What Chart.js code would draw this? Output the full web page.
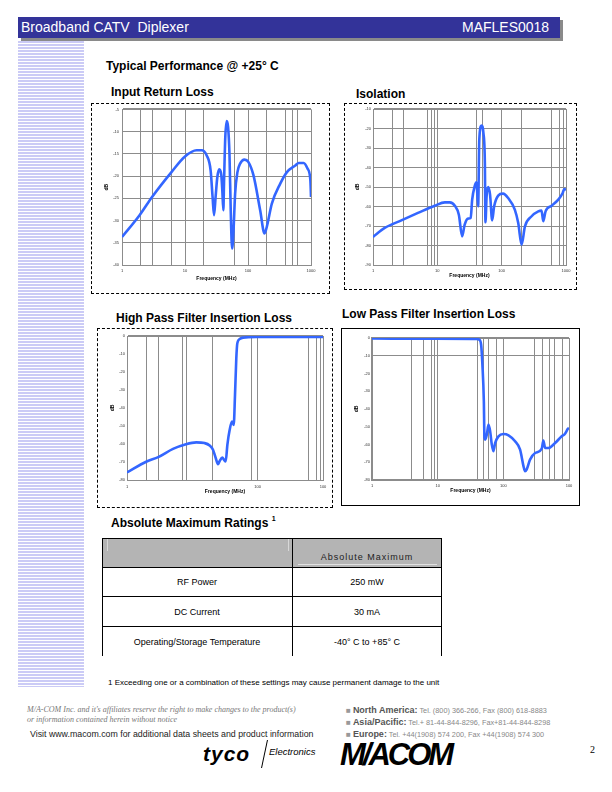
<!DOCTYPE html>
<html>
<head>
<meta charset="utf-8">
<script src="https://cdn.jsdelivr.net/npm/chart.js@4.4.1/dist/chart.umd.min.js"></script>
<style>
  html, body { margin:0; padding:0; background:#fff; }
  body { width:612px; height:792px; position:relative; overflow:hidden; font-family:"Liberation Sans", Arial, sans-serif; }
  .t { position:absolute; white-space:nowrap; transform:translateY(-50%); line-height:1; }
  .box { position:absolute; box-sizing:border-box; }
  canvas { position:absolute; }
</style>
</head>
<body>
<!-- left stripes -->
<div class="box" style="left:18px; top:41px; width:66px; height:646px; background:repeating-linear-gradient(to bottom, #cbcbf6 0px, #cbcbf6 2px, #ffffff 2px, #ffffff 3px);"></div>
<!-- header -->
<div class="box" style="left:21px; top:20px; width:542px; height:21px; background:#8a8a8a;"></div>
<div class="box" style="left:18px; top:17px; width:542px; height:21px; background:#333399;"></div>
<div class="t" style="left:21px; top:27px; color:#fff; font-size:14px;">Broadband CATV&nbsp; Diplexer</div>
<div class="t" style="left:462px; top:27px; color:#fff; font-size:14px;">MAFLES0018</div>

<div class="t" style="left:106px; top:66px; font-size:12px; font-weight:bold;">Typical Performance @ +25° C</div>
<div class="t" style="left:111px; top:92px; font-size:12px; font-weight:bold;">Input Return Loss</div>
<div class="t" style="left:356px; top:94px; font-size:12px; font-weight:bold;">Isolation</div>
<div class="t" style="left:116px; top:318px; font-size:12px; font-weight:bold;">High Pass Filter Insertion Loss</div>
<div class="t" style="left:342px; top:314px; font-size:12px; font-weight:bold;">Low Pass Filter Insertion Loss</div>

<!-- chart frames -->
<div class="box" style="left:91px; top:103px; width:239px; height:191px; border:1px dashed #000;"></div>
<div class="box" style="left:344px; top:103px; width:233px; height:187px; border:1px dashed #000;"></div>
<div class="box" style="left:97px; top:328px; width:236px; height:180px; border:1px dashed #000;"></div>
<div class="box" style="left:341px; top:328px; width:239px; height:178px; border:1px solid #000;"></div>

<canvas id="c1" width="236" height="188" style="left:92px; top:104px;"></canvas>
<canvas id="c2" width="230" height="184" style="left:345px; top:104px;"></canvas>
<canvas id="c3" width="233" height="177" style="left:98px; top:329px;"></canvas>
<canvas id="c4" width="236" height="175" style="left:342px; top:329px;"></canvas>

<!-- ratings -->
<div class="t" style="left:111px; top:522px; font-size:12px; font-weight:bold;">Absolute Maximum Ratings <sup style="font-size:7px; vertical-align:6px;">1</sup></div>
<div class="box" style="left:102px; top:538px; width:340px; height:30px; background:#b4b4b4;"></div>
<div class="box" style="left:107px; top:539px; width:1px; height:12px; background:#d8d8d8;"></div>
<div class="box" style="left:288px; top:539px; width:1px; height:12px; background:#d8d8d8;"></div>
<div class="box" style="left:298px; top:564px; width:139px; height:1px; background:#e0e0e0;"></div>
<div class="box" style="left:102px; top:538px; width:340px; height:1px; background:#000;"></div>
<div class="box" style="left:102px; top:567px; width:340px; height:1px; background:#000;"></div>
<div class="box" style="left:102px; top:596px; width:340px; height:1px; background:#000;"></div>
<div class="box" style="left:102px; top:626px; width:340px; height:1px; background:#000;"></div>
<div class="box" style="left:102px; top:538px; width:1px; height:118px; background:#000;"></div>
<div class="box" style="left:292px; top:538px; width:1px; height:118px; background:#000;"></div>
<div class="box" style="left:441px; top:538px; width:1px; height:118px; background:#000;"></div>
<div class="t" style="left:367px; top:557px; font-size:9px; letter-spacing:1px; transform:translate(-50%,-50%); color:#222;">Absolute Maximum</div>
<div class="t" style="left:197px; top:582px; font-size:9px; transform:translate(-50%,-50%);">RF Power</div>
<div class="t" style="left:367px; top:582px; font-size:9px; transform:translate(-50%,-50%);">250 mW</div>
<div class="t" style="left:197px; top:612px; font-size:9px; transform:translate(-50%,-50%);">DC Current</div>
<div class="t" style="left:367px; top:612px; font-size:9px; transform:translate(-50%,-50%);">30 mA</div>
<div class="t" style="left:197px; top:642px; font-size:9px; transform:translate(-50%,-50%);">Operating/Storage Temperature</div>
<div class="t" style="left:367px; top:642px; font-size:9px; transform:translate(-50%,-50%);">-40° C to +85° C</div>
<div class="t" style="left:108px; top:683px; font-size:8px;">1 Exceeding one or a combination of these settings may cause permanent damage to the unit</div>

<!-- footer -->
<div class="t" style="left:27px; top:710px; font-size:8px; font-style:italic; font-family:'Liberation Serif',serif; color:#777;">M/A-COM Inc. and it's affiliates reserve the right to make changes to the product(s)</div>
<div class="t" style="left:27px; top:720px; font-size:8px; font-style:italic; font-family:'Liberation Serif',serif; color:#777;">or information contained herein without notice</div>
<div class="t" style="left:30px; top:734px; font-size:8.8px; color:#222;">Visit www.macom.com for additional data sheets and product information</div>
<div class="t" style="left:346px; top:710px; font-size:7.3px; color:#888;"><span style="color:#999;font-size:8px;">■</span> <b style="font-size:9px;color:#555;">North America:</b> Tel. (800) 366-266, Fax (800) 618-8883</div>
<div class="t" style="left:346px; top:722px; font-size:7.3px; color:#888;"><span style="color:#999;font-size:8px;">■</span> <b style="font-size:9px;color:#555;">Asia/Pacific:</b> Tel.+ 81-44-844-8296, Fax+81-44-844-8298</div>
<div class="t" style="left:346px; top:734px; font-size:7.3px; color:#888;"><span style="color:#999;font-size:8px;">■</span> <b style="font-size:9px;color:#555;">Europe:</b> Tel. +44(1908) 574 200, Fax +44(1908) 574 300</div>
<div class="t" style="left:203px; top:753px; font-size:21px; font-weight:900; font-style:italic; letter-spacing:1px;">tyco</div>
<div class="box" style="left:264px; top:740px; width:1px; height:28px; background:#000; transform:skewX(-12deg);"></div>
<div class="t" style="left:269px; top:752px; font-size:9.5px; font-style:italic;">Electronics</div>
<div class="t" style="left:340px; top:754px; font-size:31px; font-weight:900; font-style:italic; letter-spacing:-3px;">M/ACOM</div>
<div class="t" style="left:590px; top:750px; font-size:10px; font-family:'Liberation Serif',serif;">2</div>

<script>
// ---------- data ----------
const irlFreq = [1, 1.9, 3, 6.1, 10, 15.3, 18.4, 22, 25.5, 27.4, 28.9, 30.6, 32.6, 35, 37.7, 39.1, 40.6, 41.6, 43.6, 46, 48.3, 50.8, 53.2, 55.9, 58.6, 62.5, 68, 75, 88, 101, 122, 156, 183, 199, 239, 325, 415, 564, 639, 765, 880, 978, 1000];
const irlDb   = [-33.7, -28.8, -24.7, -19.1, -15.6, -14.2, -14.2, -15.3, -18.7, -24.7, -28.8, -24.7, -20.2, -18.5, -19.8, -23.2, -27.7, -21.7, -11.2, -7.6, -9, -15, -27.7, -36.3, -32.9, -23.9, -19.1, -17.2, -16.3, -16.8, -19.8, -27.7, -32.9, -31.4, -26.2, -21.7, -19.1, -17.6, -17.05, -17.05, -18.3, -21.0, -24.7];
const irlGrid = [1, 2, 3, 6, 10, 20, 60, 100, 200, 400, 500, 600, 1000];

const isoFreq = [1, 1.52, 2.76, 5, 9.1, 13.1, 15.6, 18.7, 21.6, 24.3, 26.6, 30.1, 33, 34.8, 38, 40.6, 43.1, 44.9, 48.6, 52, 54.8, 56, 58.3, 61.7, 66, 71.2, 76.4, 88.3, 105, 126, 160, 181, 204, 230, 292, 371, 417, 443, 481, 598, 759, 888, 940, 1000];
const isoDb   = [-75.6, -71.0, -67.1, -63.3, -59.6, -57.9, -57.9, -59.6, -64.2, -75.3, -69.3, -66.2, -65.9, -56.5, -49.7, -47.6, -59.9, -25.7, -18.5, -22.3, -37.7, -68.1, -54.8, -50, -53.9, -67.1, -59.9, -54.4, -53.4, -55.6, -61.6, -68.5, -79.6, -70.2, -65, -62.5, -62.1, -67.6, -62.5, -59.6, -56.5, -53.1, -51, -51.4];
const isoGrid = [1, 2, 3, 7, 8, 9, 10, 40, 50, 100, 200, 600, 800, 900, 1000];

const hpfFreq = [1, 2, 3, 5.06, 8, 11.5, 15.4, 18.4, 20.7, 22.8, 24.7, 26, 28.8, 30.6, 32.4, 34.4, 37.3, 40.5, 43, 45, 47.1, 48.8, 53, 59.6, 95, 1000];
const hpfDb   = [-75.8, -69.7, -67.3, -62.7, -60.1, -59.1, -59.5, -60.8, -63.2, -67.8, -71.2, -69.7, -67.5, -68.8, -69.7, -60.4, -52.1, -47.5, -49.4, -32.7, -12.4, -4.1, -1.7, -0.9, -0.55, -0.55];
const hpfGrid = [1, 2, 3, 7, 8, 20, 80, 100, 600, 800, 900, 1000];

const lpfFreq = [1, 9.2, 39.6, 43, 45.9, 48, 50.5, 51.6, 52.8, 56, 59.4, 63, 66.8, 70.7, 75, 84.3, 100, 120, 151, 180, 203, 214, 226, 255, 305, 385, 407, 433, 486, 613, 774, 865, 966, 1000];
const lpfDb   = [-0.3, -0.4, -0.6, -0.9, -3.8, -15, -35.7, -56.3, -57.3, -54.5, -48.8, -52.6, -60.1, -63.8, -59.2, -55.4, -54.1, -54.8, -58.2, -62.9, -72.3, -75.1, -74.2, -68.5, -64.8, -62.3, -57.8, -62, -62, -59.2, -55.4, -54.1, -51.1, -50.7];
const lpfGrid = [1, 4, 6, 8, 9, 10, 40, 50, 60, 80, 100, 300, 400, 500, 600, 800, 1000];

const xLabelsA = {1:'1', 10:'10', 100:'100', 1000:'1000'};
const xLabelsB = {1:'1', 10:'10', 100:'100', 1000:'100'};

// ---------- drawing ----------
const FONT = "'Liberation Sans', Arial, sans-serif";
const BLUE = '#3366ff';
const GRID = '#8c8c8c';

function makeChart(id, freq, db, grid, xLabels, yMin, yMax, yStep, yGridFn, o) {
  return new Chart(document.getElementById(id), {
    type: 'line',
    data: { datasets: [{ data: freq.map((f, i) => ({ x: f, y: db[i] })), borderColor: BLUE, borderWidth: 2.6, pointRadius: 0, fill: false, cubicInterpolationMode: 'monotone' }] },
    options: {
      responsive: false, animation: false, devicePixelRatio: 1,
      layout: { padding: { top: o.pt, right: o.pr, left: 0, bottom: 0 } },
      plugins: { legend: { display: false }, tooltip: { enabled: false } },
      scales: {
        x: {
          type: 'logarithmic', min: 1, max: 1000,
          afterBuildTicks: s => { s.ticks = grid.map(v => ({ value: v })); },
          afterFit: s => { s.height = o.xh; },
          ticks: { autoSkip: false, maxRotation: 0, minRotation: 0, padding: o.xtp, color: '#333', font: { size: 4, family: FONT }, callback: v => (xLabels[v] !== undefined ? xLabels[v] : '') },
          grid: { color: GRID, lineWidth: 1, drawTicks: false },
          border: { color: GRID, width: o.bw || 1 },
          title: { display: true, text: 'Frequency (MHz)', color: '#000', font: { size: 5, weight: 'bold', family: FONT }, padding: { top: 0, bottom: o.xtb } }
        },
        y: {
          min: yMin, max: yMax,
          afterFit: s => { s.width = o.yw; },
          ticks: { stepSize: yStep, padding: o.ytp, color: '#333', font: { size: 4, family: FONT }, callback: v => String(v) },
          grid: { drawTicks: false, color: c => (yGridFn(c.tick.value) ? GRID : 'rgba(0,0,0,0)'), lineWidth: c => (c.tick.value === yMax ? 2 : 1) },
          border: { color: GRID, width: o.bw || 1 },
          title: { display: true, text: 'dB', color: '#000', font: { size: 5, weight: 'bold', family: FONT }, padding: { top: o.ytt, bottom: 0 } }
        }
      }
    }
  });
}

makeChart('c1', irlFreq, irlDb, irlGrid, xLabelsA, -40, -5, 5, v => true,
  { pt: 5, pr: 17, xh: 27, xtp: 3.6, xtb: 10, yw: 30, ytp: 3, ytt: 12 });
makeChart('c2', isoFreq, isoDb, isoGrid, xLabelsA, -90, -10, 10, v => true,
  { pt: 5, pr: 9, xh: 23, xtp: 3.6, xtb: 9, yw: 28, ytp: 2, ytt: 10 });
makeChart('c3', hpfFreq, hpfDb, hpfGrid, xLabelsB, -80, 0, 10, v => v === 0,
  { pt: 7, pr: 8, xh: 26, xtp: 4.6, xtb: 11, yw: 29, ytp: 2, ytt: 12 });
makeChart('c4', lpfFreq, lpfDb, lpfGrid, xLabelsB, -80, 0, 10, v => v === 0 || v === -10,
  { pt: 9, pr: 9, xh: 24, xtp: 3.6, xtb: 10, yw: 30, ytp: 2, ytt: 12, bw: 2 });
</script>
</body>
</html>
